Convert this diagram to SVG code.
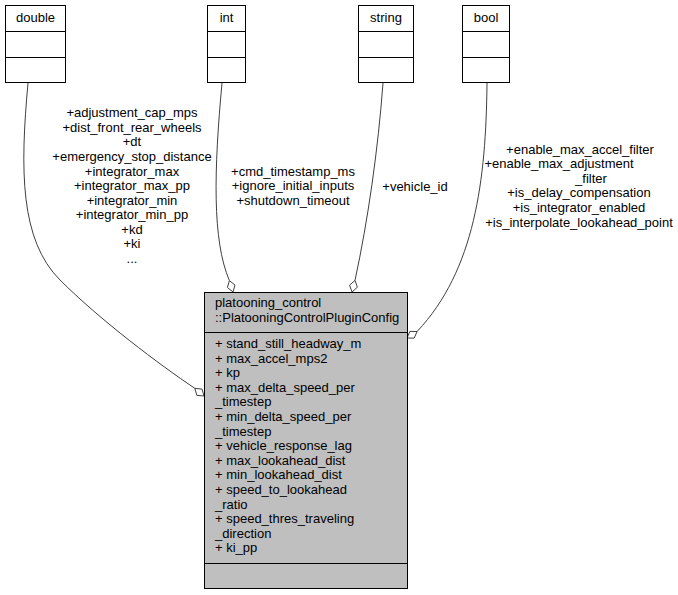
<svg xmlns="http://www.w3.org/2000/svg" width="678" height="595" viewBox="0 0 678 595">
<style>
text{font-family:"Liberation Sans",Arial,sans-serif;font-size:13px;fill:#000}
.m{text-anchor:middle}
.box{fill:#fff;stroke:#000;stroke-width:1}
.main{fill:#bfbfbf;stroke:#000;stroke-width:1}
.edge{fill:none;stroke:#404040;stroke-width:1}
.dia{fill:#fff;stroke:#404040;stroke-width:1}
</style>
<rect width="678" height="595" fill="#fff"/>
<g id="connectors">
<path class="edge" d="M28,83 C20,170 20,240 60,280 C100,320 160,365 194.8,388.3"/>
<polygon class="dia" points="204,396 196.8,395.3 194.8,388.3 202,389.1"/>
<path class="edge" d="M222,83 C214,170 212,240 229.4,280.6"/>
<polygon class="dia" points="233,292 227.4,287.5 229.4,280.6 235,285.1"/>
<path class="edge" d="M383,83 C378,150 368,220 355,280.4"/>
<polygon class="dia" points="352,292 349.6,285.2 355,280.4 357.4,287.2"/>
<path class="edge" d="M487,83 C486,180 475,270 417.1,331.5"/>
<polygon class="dia" points="407,338 409.9,331.4 417.1,331.5 414.2,338.1"/>
<g id="label-double">
<text class="m" x="132" y="117">+adjustment_cap_mps</text>
<text class="m" x="132" y="132">+dist_front_rear_wheels</text>
<text class="m" x="132" y="146">+dt</text>
<text class="m" x="132" y="161">+emergency_stop_distance</text>
<text class="m" x="132" y="176">+integrator_max</text>
<text class="m" x="132" y="190">+integrator_max_pp</text>
<text class="m" x="132" y="205">+integrator_min</text>
<text class="m" x="132" y="219">+integrator_min_pp</text>
<text class="m" x="132" y="234">+kd</text>
<text class="m" x="132" y="248">+ki</text>
<text class="m" x="132" y="263">...</text>
</g>
<g id="label-int">
<text class="m" x="293" y="176">+cmd_timestamp_ms</text>
<text class="m" x="293" y="190">+ignore_initial_inputs</text>
<text class="m" x="293" y="205">+shutdown_timeout</text>
</g>
<g id="label-string">
<text class="m" x="415" y="191">+vehicle_id</text>
</g>
<g id="label-bool">
<text class="m" x="580" y="154">+enable_max_accel_filter</text>
<text class="m" x="559" y="168">+enable_max_adjustment</text>
<text class="m" x="591" y="183">_filter</text>
<text class="m" x="579" y="197">+is_delay_compensation</text>
<text class="m" x="579" y="212">+is_integrator_enabled</text>
<text class="m" x="579" y="227">+is_interpolate_lookahead_point</text>
</g>
</g>
<g id="node-double">
<rect class="box" x="5.5" y="5.5" width="60" height="77"/>
<line class="box" x1="5.5" y1="31.5" x2="65.5" y2="31.5"/>
<line class="box" x1="5.5" y1="57.5" x2="65.5" y2="57.5"/>
<text class="m" x="35.5" y="22">double</text>
</g>
<g id="node-int">
<rect class="box" x="207.5" y="5.5" width="38" height="77"/>
<line class="box" x1="207.5" y1="31.5" x2="245.5" y2="31.5"/>
<line class="box" x1="207.5" y1="57.5" x2="245.5" y2="57.5"/>
<text class="m" x="226.5" y="22">int</text>
</g>
<g id="node-string">
<rect class="box" x="358.5" y="5.5" width="55" height="77"/>
<line class="box" x1="358.5" y1="31.5" x2="413.5" y2="31.5"/>
<line class="box" x1="358.5" y1="57.5" x2="413.5" y2="57.5"/>
<text class="m" x="386" y="22">string</text>
</g>
<g id="node-bool">
<rect class="box" x="462.5" y="5.5" width="47" height="77"/>
<line class="box" x1="462.5" y1="31.5" x2="509.5" y2="31.5"/>
<line class="box" x1="462.5" y1="57.5" x2="509.5" y2="57.5"/>
<text class="m" x="486" y="22">bool</text>
</g>
<g id="node-config">
<rect class="main" x="204.5" y="292.5" width="203" height="296"/>
<line class="main" x1="204.5" y1="332.5" x2="407.5" y2="332.5"/>
<line class="main" x1="204.5" y1="563.5" x2="407.5" y2="563.5"/>
<text x="215" y="307">platooning_control</text>
<text x="215" y="322">::PlatooningControlPluginConfig</text>
<text x="215" y="348">+ stand_still_headway_m</text>
<text x="215" y="362.6">+ max_accel_mps2</text>
<text x="215" y="377.2">+ kp</text>
<text x="215" y="391.8">+ max_delta_speed_per</text>
<text x="215" y="406.4">_timestep</text>
<text x="215" y="421">+ min_delta_speed_per</text>
<text x="215" y="435.6">_timestep</text>
<text x="215" y="450.2">+ vehicle_response_lag</text>
<text x="215" y="464.8">+ max_lookahead_dist</text>
<text x="215" y="479.4">+ min_lookahead_dist</text>
<text x="215" y="494">+ speed_to_lookahead</text>
<text x="215" y="508.6">_ratio</text>
<text x="215" y="523.2">+ speed_thres_traveling</text>
<text x="215" y="537.8">_direction</text>
<text x="215" y="552.4">+ ki_pp</text>
</g>
</svg>
